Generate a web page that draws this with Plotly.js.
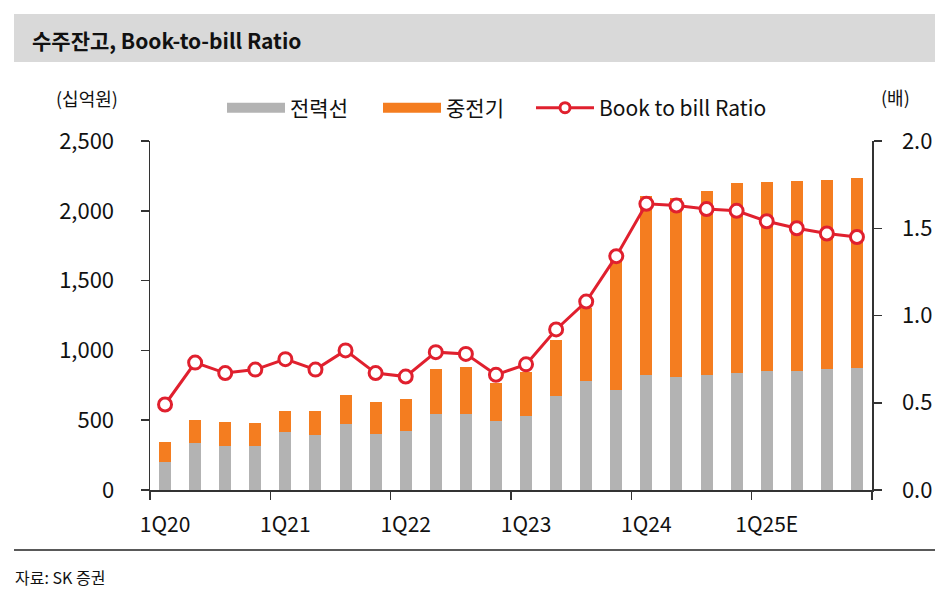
<!DOCTYPE html>
<html>
<head>
<meta charset="utf-8">
<script src="https://cdn.plot.ly/plotly-3.0.1.min.js"></script>
<style>
    html, body { margin: 0; padding: 0; background: #fff; }
    #chart { width: 947px; height: 596px; }
</style>
</head>
<body>
<div id="chart"></div>
<script>
// ── Data ─────────────────────────────────────────────────────────────────
const quarters = ['1Q20', '2Q20', '3Q20', '4Q20', '1Q21', '2Q21', '3Q21', '4Q21',
                  '1Q22', '2Q22', '3Q22', '4Q22', '1Q23', '2Q23', '3Q23', '4Q23',
                  '1Q24', '2Q24', '3Q24', '4Q24', '1Q25E', '2Q25E', '3Q25E', '4Q25E'];
// 전력선 backlog (십억원)
const cableBacklog = [203, 337, 316, 316, 419, 395, 474, 402, 423, 545, 543, 495,
                      531, 670, 782, 718, 825, 813, 825, 840, 849, 856, 868, 876];
// 전력선 + 중전기 stacked total (십억원)
const totalBacklog = [342, 502, 488, 483, 569, 567, 677, 627, 653, 868, 883, 766,
                      842, 1077, 1304, 1650, 2108, 2089, 2144, 2196, 2203, 2213, 2222, 2232];
const heavyBacklog = totalBacklog.map((t, i) => t - cableBacklog[i]);
// Book-to-bill (배)
const btbRatio = [0.49, 0.73, 0.67, 0.69, 0.75, 0.69, 0.80, 0.67, 0.65, 0.79, 0.78, 0.66,
                  0.72, 0.92, 1.08, 1.34, 1.64, 1.63, 1.61, 1.60, 1.54, 1.50, 1.47, 1.45];
const leftTicks = [0, 500, 1000, 1500, 2000, 2500];
const rightTicks = [0, 0.5, 1.0, 1.5, 2.0];

const GRAY = '#b3b3b3';
const ORANGE = '#f47d20';
const RED = '#e0202e';
const FONT = '"Noto Sans CJK KR", "Noto Sans", sans-serif';

// plot area in pixels (for placing header/footer pieces)
const PL = 150, PR = 872, PT = 141, PB = 490;
const px = x => (x - PL) / (PR - PL);
const py = y => (PB - y) / (PB - PT);

const idx = quarters.map((q, i) => i);
const labelIdx = idx.filter(i => i % 4 === 0);
const boundIdx = [];
for (let i = 0; i <= quarters.length; i += 4) boundIdx.push(i - 0.5);

const traces = [
    {
        x: idx, y: cableBacklog, name: '전력선', type: 'bar',
        marker: { color: GRAY }, showlegend: false,
        hovertemplate: '%{customdata}<br>전력선: %{y}<extra></extra>', customdata: quarters
    },
    {
        x: idx, y: heavyBacklog, name: '중전기', type: 'bar',
        marker: { color: ORANGE }, showlegend: false,
        hovertemplate: '%{customdata}<br>중전기: %{y}<extra></extra>', customdata: quarters
    },
    {
        x: idx, y: btbRatio, name: 'Book to bill Ratio', yaxis: 'y2',
        type: 'scatter', mode: 'lines+markers',
        line: { color: RED, width: 3 },
        marker: { size: 13, color: '#fff', line: { color: RED, width: 3 } },
        showlegend: false, cliponaxis: false
    },
    // legend-only swatches (wide blocks like the source), one legend each
    { x: [null], y: [null], name: '전력선', type: 'scatter', mode: 'lines',
      line: { color: GRAY, width: 15 }, hoverinfo: 'skip', legend: 'legend' },
    { x: [null], y: [null], name: '중전기', type: 'scatter', mode: 'lines',
      line: { color: ORANGE, width: 15 }, hoverinfo: 'skip', legend: 'legend2' },
    { x: [null], y: [null], name: 'Book to bill Ratio', type: 'scatter', mode: 'lines+markers',
      line: { color: RED, width: 3 },
      marker: { size: 10, color: '#fff', line: { color: RED, width: 3 } },
      hoverinfo: 'skip', legend: 'legend3' }
];

const legendBase = {
    orientation: 'h', y: py(108), xanchor: 'left', yanchor: 'middle',
    font: { family: FONT, size: 21, color: '#111' },
    itemwidth: 58, bgcolor: 'rgba(0,0,0,0)'
};

const layout = {
    width: 947, height: 596,
    margin: { l: PL, r: 947 - PR, t: PT, b: 596 - PB },
    barmode: 'stack', bargap: 0.6,
    paper_bgcolor: '#fff', plot_bgcolor: '#fff',
    font: { family: FONT, size: 21, color: '#111' },
    showlegend: true,
    legend: Object.assign({}, legendBase, { x: px(222) }),
    legend2: Object.assign({}, legendBase, { x: px(378) }),
    legend3: Object.assign({}, legendBase, { x: px(531) }),
    xaxis: {
        range: [-0.5, quarters.length - 0.5],
        tickvals: boundIdx, showticklabels: false,
        ticks: 'outside', ticklen: 8, tickwidth: 1.5, tickcolor: '#333',
        showline: true, linecolor: '#333', linewidth: 1.5,
        showgrid: false, zeroline: false, fixedrange: true
    },
    xaxis2: {
        overlaying: 'x', matches: 'x', side: 'bottom', anchor: 'y',
        tickvals: labelIdx, ticktext: labelIdx.map(i => quarters[i]),
        ticks: '', ticklen: 0, ticklabelstandoff: 20,
        tickfont: { family: FONT, size: 21, color: '#111' },
        showline: false, showgrid: false, zeroline: false
    },
    yaxis: {
        range: [0, 2500], tickvals: leftTicks, tickformat: ',',
        ticks: 'outside', ticklen: 8, tickwidth: 1.5, tickcolor: '#333',
        ticklabelstandoff: 22,
        tickfont: { family: FONT, size: 22, color: '#111' },
        showline: true, linecolor: '#333', linewidth: 1.5,
        showgrid: false, zeroline: false, fixedrange: true
    },
    yaxis2: {
        range: [0, 2.0], tickvals: rightTicks, tickformat: '.1f',
        overlaying: 'y', side: 'right',
        ticks: 'outside', ticklen: 8, tickwidth: 1.5, tickcolor: '#333',
        ticklabelstandoff: 16,
        tickfont: { family: FONT, size: 22, color: '#111' },
        showline: true, linecolor: '#333', linewidth: 1.5,
        showgrid: false, zeroline: false, fixedrange: true
    },
    shapes: [
        // title band
        { type: 'rect', xref: 'paper', yref: 'paper', layer: 'below',
          x0: px(14), x1: px(935), y0: py(62), y1: py(14),
          fillcolor: '#d9d9d9', line: { width: 0 } },
        // footer rule
        { type: 'line', xref: 'paper', yref: 'paper',
          x0: px(14), x1: px(935), y0: py(550), y1: py(550),
          line: { color: '#222', width: 1.5 } }
    ],
    annotations: [
        { text: '<b>수주잔고, Book-to-bill Ratio</b>', xref: 'paper', yref: 'paper',
          x: px(30), y: py(40), xanchor: 'left', yanchor: 'middle', showarrow: false,
          font: { family: FONT, size: 21, color: '#111' } },
        { text: '(십억원)', xref: 'paper', yref: 'paper',
          x: px(54), y: py(98), xanchor: 'left', yanchor: 'middle', showarrow: false,
          font: { family: FONT, size: 18, color: '#111' } },
        { text: '(배)', xref: 'paper', yref: 'paper',
          x: px(879), y: py(97), xanchor: 'left', yanchor: 'middle', showarrow: false,
          font: { family: FONT, size: 18, color: '#111' } },
        { text: '자료: SK 증권', xref: 'paper', yref: 'paper',
          x: px(13), y: py(577), xanchor: 'left', yanchor: 'middle', showarrow: false,
          font: { family: FONT, size: 16, color: '#111' } }
    ]
};

// xaxis2 needs a (hidden) trace to render its labels
traces.push({ x: [0], y: [null], xaxis: 'x2', type: 'scatter', mode: 'markers',
              showlegend: false, hoverinfo: 'skip' });

Plotly.newPlot('chart', traces, layout, { displayModeBar: false, staticPlot: true });
</script>
</body>
</html>
